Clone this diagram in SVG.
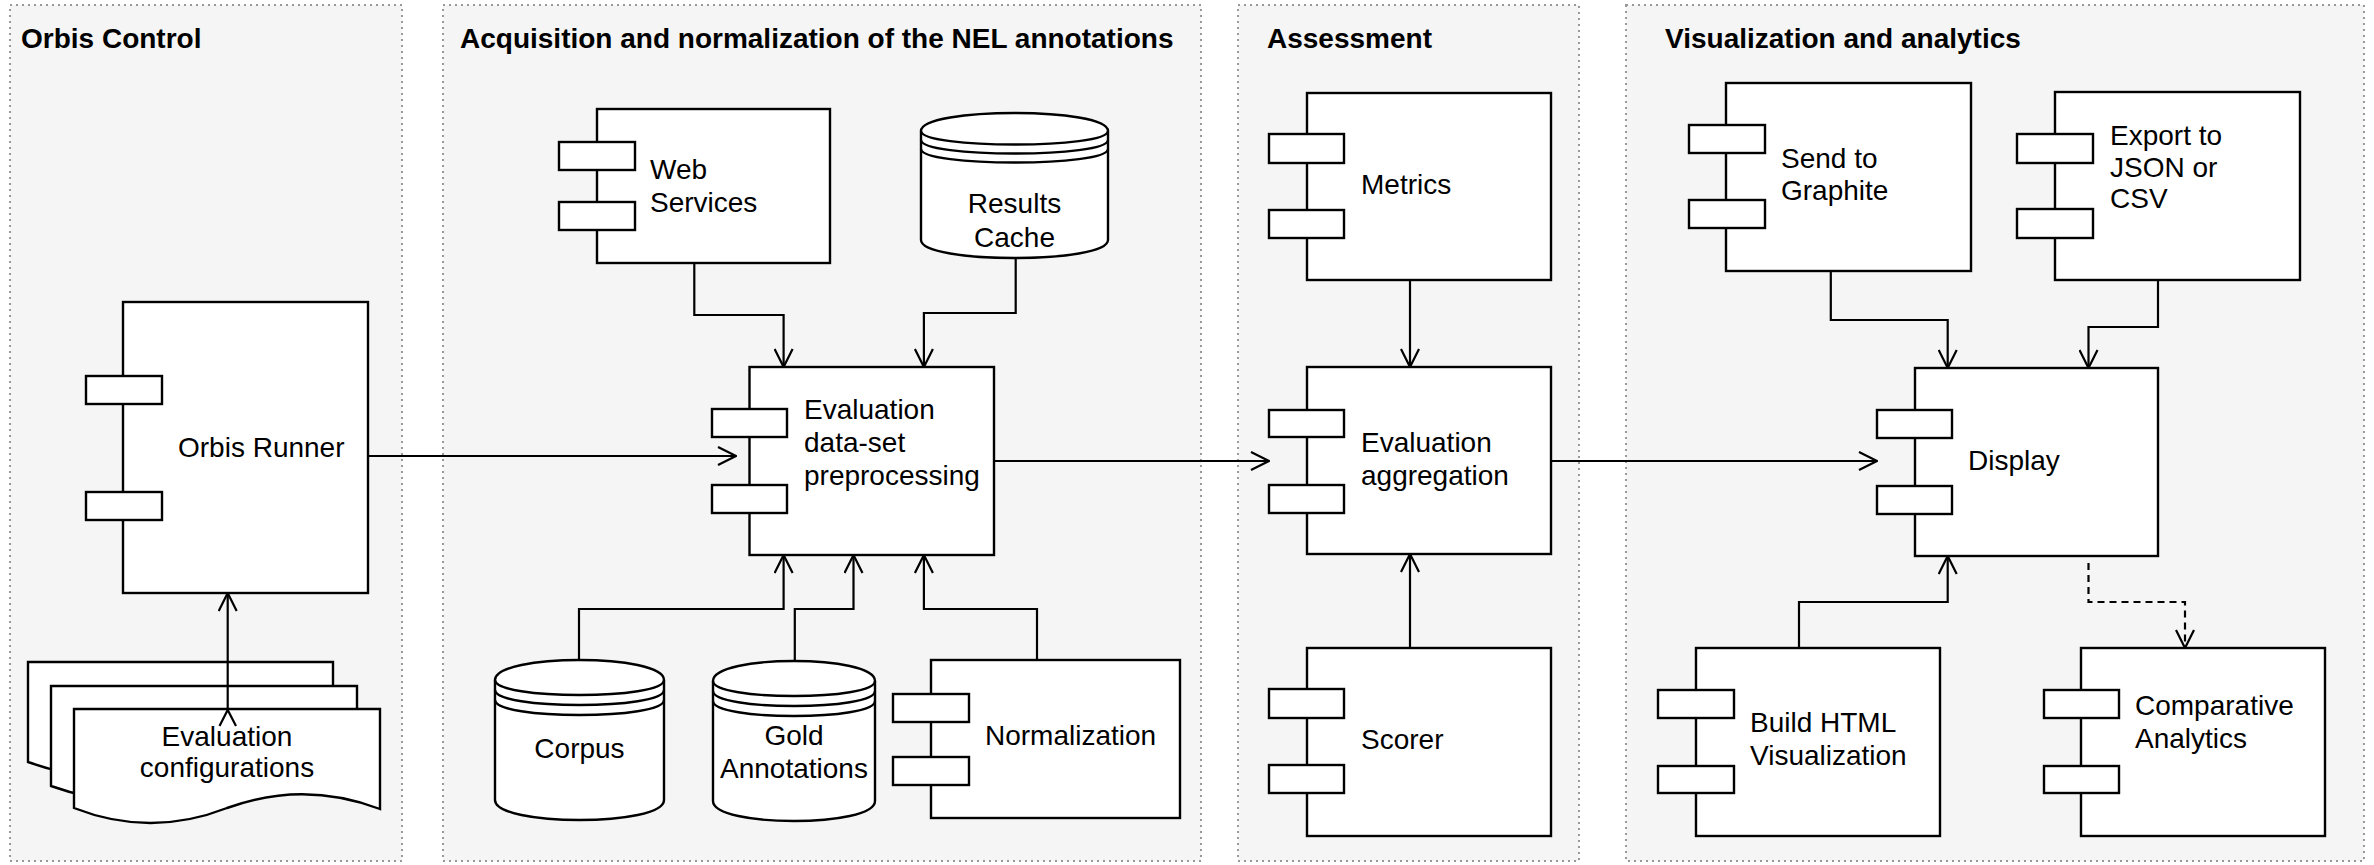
<svg xmlns="http://www.w3.org/2000/svg" width="2374" height="865" viewBox="0 0 2374 865">
<defs>
<style>
.panel{fill:#f5f5f5;stroke:#999;stroke-width:2;stroke-dasharray:2 4}
.title{font-family:"Liberation Sans",Arial,sans-serif;font-weight:bold;font-size:28px;fill:#000}
.lbl{font-family:"Liberation Sans",Arial,sans-serif;font-size:28px;fill:#000}
.mid{text-anchor:middle}
.box{fill:#fff;stroke:#000;stroke-width:2.4}
.ln{fill:none;stroke:#000;stroke-width:2.4}
.edge{fill:none;stroke:#000;stroke-width:2.2;marker-end:url(#arr)}
.dash{stroke-dasharray:7 5}
</style>
<marker id="arr" viewBox="0 0 20 20" refX="19" refY="10" markerWidth="20" markerHeight="20" markerUnits="userSpaceOnUse" orient="auto">
<path d="M1,1 L19,10 L1,19" fill="none" stroke="#000" stroke-width="2.2" stroke-dasharray="none"/>
</marker>
</defs>
<rect width="2374" height="865" fill="#fff"/>

<g id="panel-orbis-control">
<rect class="panel" x="10" y="5" width="392" height="856"/>
<text class="title" x="21" y="48">Orbis Control</text>
</g>
<g id="panel-acquisition">
<rect class="panel" x="443" y="5" width="758" height="856"/>
<text class="title" x="460" y="48">Acquisition and normalization of the NEL annotations</text>
</g>
<g id="panel-assessment">
<rect class="panel" x="1238" y="5" width="341" height="856"/>
<text class="title" x="1267" y="48">Assessment</text>
</g>
<g id="panel-visualization">
<rect class="panel" x="1626" y="5" width="738" height="856"/>
<text class="title" x="1665" y="48">Visualization and analytics</text>
</g>

<g id="node-orbis-runner">
<rect class="box" x="123" y="302" width="245" height="291"/>
<rect class="box" x="86" y="376" width="76" height="28"/>
<rect class="box" x="86" y="492" width="76" height="28"/>
<text class="lbl" x="178" y="457">Orbis Runner</text>
</g>

<g id="node-evaluation-configurations">
<path class="box" d="M28,662 H333 V763 Q256.75,735 180.5,762 Q104.25,790 28,762 Z"/>
<path class="box" d="M51,686 H357 V787 Q280.5,759 204,786 Q127.5,814 51,786 Z"/>
<path class="box" d="M74,709 H380 V809 Q303.5,780 227,808 Q150.5,838 74,808 Z"/>
<text class="lbl mid" x="227" y="746">Evaluation</text>
<text class="lbl mid" x="227" y="777">configurations</text>
</g>

<g id="node-web-services">
<rect class="box" x="597" y="109" width="233" height="154"/>
<rect class="box" x="559" y="142" width="76" height="28"/>
<rect class="box" x="559" y="202" width="76" height="28"/>
<text class="lbl" x="650" y="179">Web</text>
<text class="lbl" x="650" y="212">Services</text>
</g>

<g id="node-results-cache">
<path class="box" d="M921,131 C921,107 1108,107 1108,131 V240 C1108,264 921,264 921,240 Z"/>
<path class="ln" d="M921,131 C921,149 1108,149 1108,131 M921,140 C921,158 1108,158 1108,140 M921,149 C921,167 1108,167 1108,149"/>
<text class="lbl mid" x="1014.5" y="213">Results</text>
<text class="lbl mid" x="1014.5" y="247">Cache</text>
</g>

<g id="node-evaluation-preprocessing">
<rect class="box" x="749.5" y="367" width="244.5" height="188"/>
<rect class="box" x="712" y="409" width="75" height="28"/>
<rect class="box" x="712" y="485" width="75" height="28"/>
<text class="lbl" x="804" y="419">Evaluation</text>
<text class="lbl" x="804" y="452">data-set</text>
<text class="lbl" x="804" y="485">preprocessing</text>
</g>

<g id="node-corpus">
<path class="box" d="M495,680 C495,653.3 664,653.3 664,680 V800 C664,826.7 495,826.7 495,800 Z"/>
<path class="ln" d="M495,680 C495,700 664,700 664,680 M495,690 C495,710 664,710 664,690 M495,700 C495,720 664,720 664,700"/>
<text class="lbl mid" x="579.5" y="758">Corpus</text>
</g>

<g id="node-gold-annotations">
<path class="box" d="M713,681 C713,654.3 875,654.3 875,681 V801 C875,827.7 713,827.7 713,801 Z"/>
<path class="ln" d="M713,681 C713,701 875,701 875,681 M713,691 C713,711 875,711 875,691 M713,701 C713,721 875,721 875,701"/>
<text class="lbl mid" x="794" y="745">Gold</text>
<text class="lbl mid" x="794" y="778">Annotations</text>
</g>

<g id="node-normalization">
<rect class="box" x="931" y="660" width="249" height="158"/>
<rect class="box" x="893" y="694" width="76" height="28"/>
<rect class="box" x="893" y="757" width="76" height="28"/>
<text class="lbl" x="985" y="745">Normalization</text>
</g>

<g id="node-metrics">
<rect class="box" x="1307" y="93" width="244" height="187"/>
<rect class="box" x="1269" y="134" width="75" height="29"/>
<rect class="box" x="1269" y="210" width="75" height="28"/>
<text class="lbl" x="1361" y="194">Metrics</text>
</g>

<g id="node-evaluation-aggregation">
<rect class="box" x="1307" y="367" width="244" height="187"/>
<rect class="box" x="1269" y="410" width="75" height="27"/>
<rect class="box" x="1269" y="485" width="75" height="28"/>
<text class="lbl" x="1361" y="452">Evaluation</text>
<text class="lbl" x="1361" y="485">aggregation</text>
</g>

<g id="node-scorer">
<rect class="box" x="1307" y="648" width="244" height="188"/>
<rect class="box" x="1269" y="689" width="75" height="29"/>
<rect class="box" x="1269" y="765" width="75" height="28"/>
<text class="lbl" x="1361" y="749">Scorer</text>
</g>

<g id="node-send-to-graphite">
<rect class="box" x="1726" y="83" width="245" height="188"/>
<rect class="box" x="1689" y="125" width="76" height="28"/>
<rect class="box" x="1689" y="200" width="76" height="28"/>
<text class="lbl" x="1781" y="168">Send to</text>
<text class="lbl" x="1781" y="200">Graphite</text>
</g>

<g id="node-export">
<rect class="box" x="2055" y="92" width="245" height="188"/>
<rect class="box" x="2017" y="134" width="76" height="29"/>
<rect class="box" x="2017" y="209" width="76" height="29"/>
<text class="lbl" x="2110" y="145">Export to</text>
<text class="lbl" x="2110" y="177">JSON or</text>
<text class="lbl" x="2110" y="208">CSV</text>
</g>

<g id="node-display">
<rect class="box" x="1915" y="368" width="243" height="188"/>
<rect class="box" x="1877" y="410" width="75" height="28"/>
<rect class="box" x="1877" y="486" width="75" height="28"/>
<text class="lbl" x="1968" y="470">Display</text>
</g>

<g id="node-build-html">
<rect class="box" x="1696" y="648" width="244" height="188"/>
<rect class="box" x="1658" y="690" width="76" height="28"/>
<rect class="box" x="1658" y="766" width="76" height="27"/>
<text class="lbl" x="1750" y="732">Build HTML</text>
<text class="lbl" x="1750" y="765">Visualization</text>
</g>

<g id="node-comparative-analytics">
<rect class="box" x="2081" y="648" width="244" height="188"/>
<rect class="box" x="2044" y="690" width="75" height="28"/>
<rect class="box" x="2044" y="766" width="75" height="27"/>
<text class="lbl" x="2135" y="715">Comparative</text>
<text class="lbl" x="2135" y="748">Analytics</text>
</g>

<g id="connectors">
<path class="edge" d="M227.7,709 V593"/>
<polyline class="ln" points="219.5,726 227.7,710 236,726" style="stroke-width:2.2"/>
<path class="edge" d="M368,456 H736"/>
<path class="edge" d="M694.3,263 V315 H783.6 V367"/>
<path class="edge" d="M1015.7,258 V313 H923.9 V367"/>
<path class="edge" d="M579,660 V609 H783.6 V555"/>
<path class="edge" d="M794.8,661 V609 H853.5 V555"/>
<path class="edge" d="M1037,660 V609 H923.9 V555"/>
<path class="edge" d="M994,461 H1269"/>
<path class="edge" d="M1410,280 V367"/>
<path class="edge" d="M1410,648 V554"/>
<path class="edge" d="M1551,461 H1877"/>
<path class="edge" d="M1830.8,271 V320 H1947.7 V368"/>
<path class="edge" d="M2158,280 V327 H2088.5 V368"/>
<path class="edge" d="M1799,648 V602 H1947.7 V556"/>
<path class="edge dash" d="M2088.5,563 V602 H2185 V648"/>
</g>
</svg>
